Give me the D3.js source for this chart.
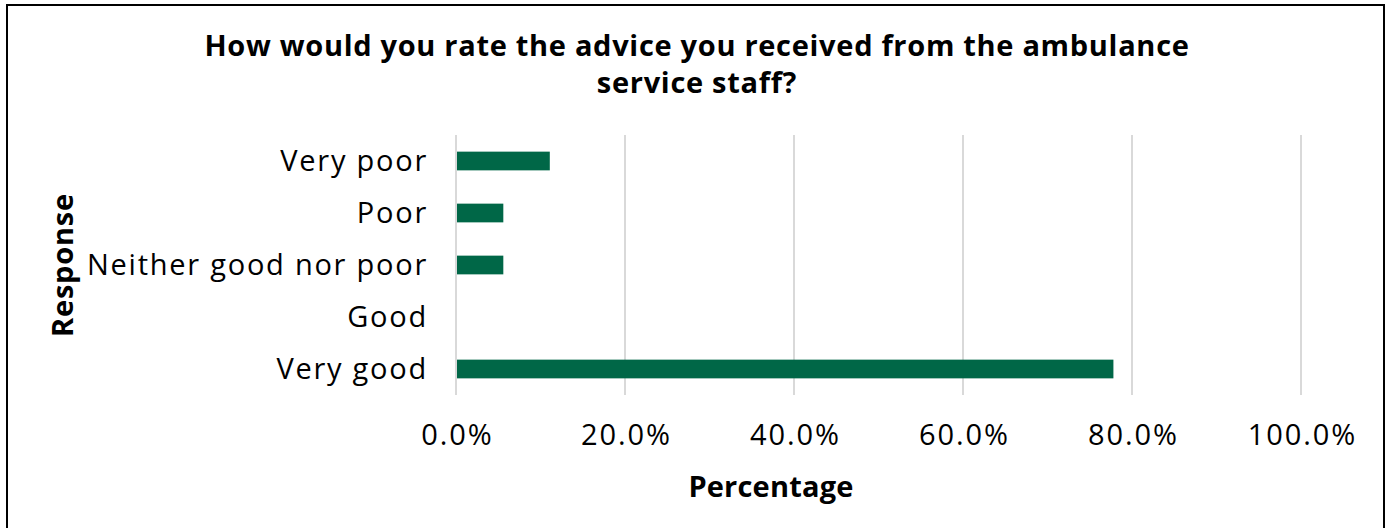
<!DOCTYPE html>
<html>
<head>
<meta charset="utf-8">
<script src="https://cdn.jsdelivr.net/npm/d3@7"></script>
<style>
  html, body { margin: 0; padding: 0; background: #fff; }
  svg { display: block; }
  text { font-family: "Open Sans", "Noto Sans", sans-serif; fill: #000; }
</style>
</head>
<body>
<svg id="chart" width="1392" height="528"></svg>
<script>
// Survey responses (top to bottom) and share of respondents, in percent
const categories = ["Very poor", "Poor", "Neither good nor poor", "Good", "Very good"];
const percentages = [11.1, 5.6, 5.6, 0, 77.8];
const tickValues = [0, 20, 40, 60, 80, 100];
const titleLines = ["How would you rate the advice you received from the ambulance", "service staff?"];
const xAxisTitle = "Percentage";
const yAxisTitle = "Response";

const W = 1392, H = 528;
const plot = { left: 456, right: 1301, top: 135, bottom: 395 };
const barColor = "#006747";
const gridColor = "#d9d9d9";
const fontStack = '"Open Sans", "Noto Sans", sans-serif';

const svg = d3.select("#chart");

// outer frame (runs past the bottom edge)
svg.append("rect")
  .attr("x", 7).attr("y", 5)
  .attr("width", 1377).attr("height", H + 10)
  .attr("fill", "#fff").attr("stroke", "#000").attr("stroke-width", 2);

const x = d3.scaleLinear().domain([0, 100]).range([plot.left, plot.right]);
const y = d3.scaleBand().domain(categories).range([plot.top, plot.bottom]).paddingInner(0.64).paddingOuter(0.32);

// vertical gridlines
svg.append("g").selectAll("line").data(tickValues).join("line")
  .attr("x1", d => x(d)).attr("x2", d => x(d))
  .attr("y1", plot.top).attr("y2", plot.bottom)
  .attr("stroke", gridColor).attr("stroke-width", 2);

// bars
svg.append("g").selectAll("rect").data(categories).join("rect")
  .attr("x", x(0) + 1)
  .attr("y", d => y(d))
  .attr("width", (d, i) => Math.max(0, x(percentages[i]) - x(0) - 1))
  .attr("height", y.bandwidth())
  .attr("fill", barColor)
  .attr("display", (d, i) => percentages[i] > 0 ? null : "none");

// x axis tick labels (nudged right to offset the trailing letter-spacing)
const xAxis = d3.axisBottom(x).tickValues(tickValues)
  .tickFormat(d => d3.format(".1f")(d) + "%").tickSize(0).tickPadding(0);
const gx = svg.append("g").attr("transform", `translate(1, 445)`).call(xAxis);
gx.select(".domain").remove();
gx.selectAll("text").attr("y", 0).attr("dy", 0).attr("font-size", 29)
  .attr("letter-spacing", 1.9)
  .style("font-family", fontStack).attr("fill", "#000");

// y axis category labels
const yAxis = d3.axisLeft(y).tickSize(0).tickPadding(0);
const gy = svg.append("g").attr("transform", `translate(428, 0)`).call(yAxis);
gy.select(".domain").remove();
gy.selectAll("text").attr("font-size", 29).attr("dy", "0.36em")
  .attr("letter-spacing", 1.75)
  .style("font-family", fontStack).attr("fill", "#000");

// title
svg.append("text")
  .attr("x", 697).attr("y", 56)
  .attr("text-anchor", "middle").attr("font-size", 29).attr("font-weight", 700)
  .attr("letter-spacing", 0.7)
  .selectAll("tspan").data(titleLines).join("tspan")
  .attr("x", 697).attr("dy", (d, i) => i === 0 ? 0 : 37)
  .text(d => d);

// axis titles
svg.append("text")
  .attr("x", 771).attr("y", 497)
  .attr("text-anchor", "middle").attr("font-size", 29).attr("font-weight", 700)
  .attr("letter-spacing", 0.2)
  .text(xAxisTitle);

svg.append("text")
  .attr("transform", `translate(73, ${(plot.top + plot.bottom) / 2}) rotate(-90)`)
  .attr("text-anchor", "middle").attr("font-size", 29).attr("font-weight", 700)
  .attr("letter-spacing", 0.8)
  .text(yAxisTitle);
</script>
</body>
</html>
